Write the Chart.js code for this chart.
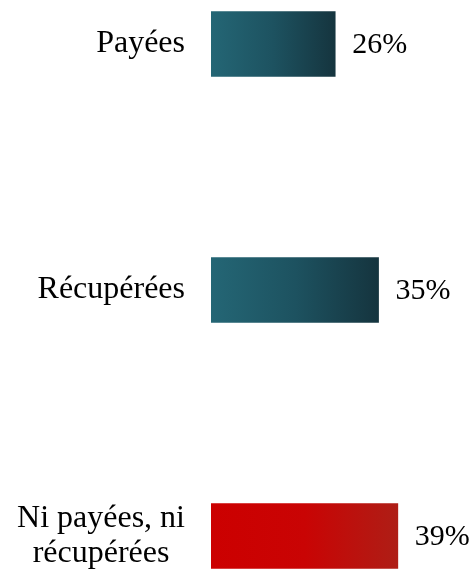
<!DOCTYPE html>
<html>
<head>
<meta charset="utf-8">
<script src="https://cdn.jsdelivr.net/npm/chart.js@4"></script>
<style>
  html, body { margin: 0; padding: 0; background: #fff; }
  #wrap { width: 473px; height: 570px; }
</style>
</head>
<body>
<div id="wrap"><canvas id="barChart"></canvas></div>
<script>
const categories = [['Payées'], ['Récupérées'], ['Ni payées, ni', 'récupérées']];
const values = [26, 35, 39];
const valueSuffix = '%';

const FONT = '"Liberation Serif", serif';

// couleurs du dégradé (gauche -> droite)
const gradients = [
  ['#246675', '#1d5260', '#15343e'],
  ['#246675', '#1d5260', '#15343e'],
  ['#cc0000', '#c90404', '#ae1e16']
];

function barGradient(ctx) {
  const chart = ctx.chart;
  if (!chart.chartArea || !chart.scales.x) return gradients[ctx.dataIndex][0];
  const x = chart.scales.x;
  const x0 = x.getPixelForValue(0);
  const x1 = x.getPixelForValue(values[ctx.dataIndex]);
  const g = chart.ctx.createLinearGradient(x0, 0, x1, 0);
  const c = gradients[ctx.dataIndex];
  g.addColorStop(0, c[0]);
  g.addColorStop(0.5, c[1]);
  g.addColorStop(1, c[2]);
  return g;
}

// étiquettes des catégories et des valeurs
const labelPlugin = {
  id: 'labels',
  afterDatasetsDraw(chart) {
    const ctx = chart.ctx;
    const meta = chart.getDatasetMeta(0);
    ctx.save();
    ctx.fillStyle = '#000';
    ctx.textBaseline = 'middle';
    meta.data.forEach((bar, i) => {
      const lines = categories[i];
      const lh = 35;
      ctx.font = '32px ' + FONT;
      const w = Math.max(...lines.map(l => ctx.measureText(l).width));
      const right = chart.chartArea.left - 26;
      const cx = right - w / 2;
      ctx.textAlign = 'center';
      lines.forEach((l, j) => {
        ctx.fillText(l, cx, bar.y + (j - (lines.length - 1) / 2) * lh);
      });
      ctx.font = '30px ' + FONT;
      ctx.textAlign = 'left';
      ctx.fillText(values[i] + valueSuffix, bar.x + 16, bar.y + 1);
    });
    ctx.restore();
  }
};

new Chart(document.getElementById('barChart').getContext('2d'), {
  type: 'bar',
  data: {
    labels: categories,
    datasets: [{
      data: values,
      backgroundColor: barGradient,
      borderColor: 'rgba(255,255,255,0.35)',
      borderWidth: 1,
      barThickness: 67,
      clip: false
    }]
  },
  options: {
    indexAxis: 'y',
    responsive: true,
    maintainAspectRatio: false,
    animation: false,
    layout: { padding: { left: 211, right: 0, top: 44, bottom: 34 } },
    scales: {
      x: { display: false, min: 0, max: 54.4 },
      y: { display: false, offset: false }
    },
    plugins: { legend: { display: false }, tooltip: { enabled: false } }
  },
  plugins: [labelPlugin]
});
</script>
</body>
</html>
